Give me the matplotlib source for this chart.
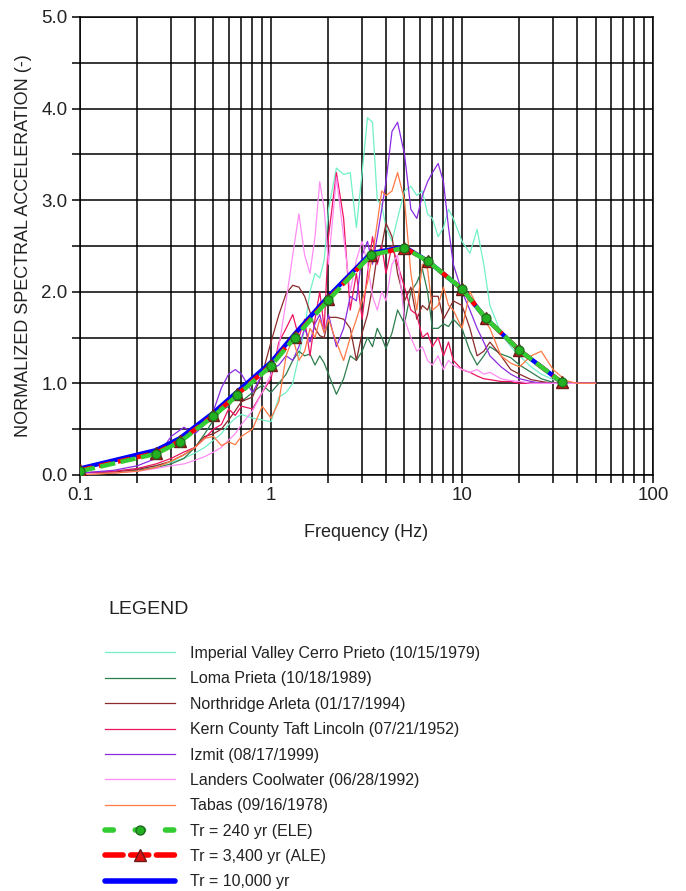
import matplotlib
matplotlib.use("Agg")
import matplotlib.pyplot as plt
from matplotlib.lines import Line2D
from matplotlib.ticker import FixedLocator, FixedFormatter, LogLocator, NullFormatter

plt.rcParams['font.family'] = ['Liberation Sans', 'DejaVu Sans']
plt.rcParams['lines.scale_dashes'] = False

# --- spectra of the scaled records (frequency in Hz, normalized Sa) ---
freq = [0.1, 0.15, 0.2, 0.25, 0.3, 0.35, 0.4, 0.45, 0.5, 0.55, 0.6, 0.65, 0.7, 0.8, 0.9,
        1.0, 1.1, 1.2, 1.3, 1.4, 1.5, 1.6, 1.7, 1.8, 1.9, 2.0, 2.2, 2.4, 2.6, 2.8,
        3.0, 3.2, 3.4, 3.6, 3.8, 4.0, 4.3, 4.6, 5.0, 5.4, 5.8, 6.2, 6.6, 7.0, 7.5,
        8.0, 8.5, 9.0, 10, 11, 12, 13, 14, 16, 18, 20, 23, 26, 30, 35, 40, 50]

imperial_valley = [0.02, 0.04, 0.07, 0.10, 0.14, 0.18, 0.24, 0.30, 0.38, 0.45, 0.55, 0.62, 0.66, 0.62, 0.60,
                   0.58, 0.85, 0.90, 1.00, 1.30, 1.60, 2.00, 2.20, 2.15, 2.35, 2.90, 3.35, 3.28, 3.30, 2.70,
                   3.30, 3.90, 3.85, 3.00, 2.95, 2.70, 2.55, 2.80, 3.10, 3.15, 3.05, 3.10, 2.85, 2.80, 2.60,
                   2.70, 2.90, 2.80, 2.55, 2.42, 2.68, 2.30, 1.85, 1.55, 1.40, 1.30, 1.18, 1.10, 1.04, 1.01, 1.00, 1.00]

loma_prieta = [0.00, 0.02, 0.05, 0.08, 0.12, 0.18, 0.30, 0.45, 0.60, 0.70, 0.75, 0.85, 0.80, 0.90, 0.98,
               0.90, 1.00, 1.10, 1.25, 1.35, 1.30, 1.32, 1.20, 1.30, 1.22, 1.10, 0.88, 1.05, 1.30, 1.25,
               1.35, 1.50, 1.40, 1.60, 1.50, 1.38, 1.55, 1.80, 1.65, 2.00, 2.10, 2.25, 2.00, 1.60, 1.60,
               1.65, 1.62, 1.70, 1.60, 1.35, 1.20, 1.30, 1.40, 1.32, 1.28, 1.20, 1.12, 1.05, 1.01, 1.00, 1.00, 1.00]

northridge = [0.02, 0.03, 0.06, 0.10, 0.15, 0.22, 0.30, 0.42, 0.45, 0.50, 0.60, 0.70, 0.80, 0.85, 1.10,
              1.45, 1.75, 1.98, 2.07, 2.05, 1.95, 1.78, 1.60, 1.52, 1.50, 1.72, 1.72, 1.70, 1.60, 1.25,
              1.55, 1.75, 2.05, 2.40, 2.50, 2.75, 2.60, 2.20, 1.90, 2.05, 1.70, 1.85, 1.80, 1.95, 1.95,
              1.70, 1.80, 1.90, 1.85, 1.60, 1.30, 1.35, 1.45, 1.30, 1.15, 1.10, 1.04, 1.02, 1.00, 1.00, 1.00, 1.00]

kern_county = [0.02, 0.04, 0.07, 0.12, 0.18, 0.25, 0.30, 0.40, 0.50, 0.55, 0.72, 0.65, 0.75, 0.72, 0.90,
               1.05, 1.45, 1.60, 1.75, 1.50, 1.70, 1.30, 1.70, 2.00, 1.60, 2.60, 3.30, 2.80, 1.80, 2.20,
               1.70, 2.20, 2.60, 2.30, 2.50, 2.20, 2.50, 2.30, 2.05, 1.80, 1.75, 1.50, 1.55, 1.40, 1.50,
               1.30, 1.45, 1.25, 1.15, 1.12, 1.08, 1.05, 1.04, 1.02, 1.02, 1.00, 1.00, 1.00, 1.00, 1.00, 1.00, 1.00]

izmit = [0.02, 0.05, 0.10, 0.18, 0.42, 0.52, 0.45, 0.55, 0.70, 0.95, 1.10, 1.15, 1.10, 0.90, 1.10,
         1.15, 1.20, 1.30, 1.25, 1.40, 1.60, 1.45, 1.65, 1.75, 1.55, 1.75, 1.40, 1.60, 1.95, 1.90,
         2.40, 2.55, 2.30, 2.60, 2.90, 3.20, 3.75, 3.85, 3.50, 2.90, 2.80, 3.05, 3.20, 3.30, 3.40,
         3.20, 2.70, 2.30, 2.00, 1.80, 1.60, 1.45, 1.30, 1.18, 1.10, 1.05, 1.02, 1.00, 1.00, 1.00, 1.00, 1.00]

landers = [0.01, 0.02, 0.04, 0.07, 0.10, 0.12, 0.16, 0.20, 0.25, 0.30, 0.38, 0.45, 0.55, 0.70, 0.90,
           1.10, 1.40, 1.90, 2.40, 2.85, 2.40, 2.20, 2.60, 3.20, 2.90, 2.30, 3.25, 2.60, 2.00, 2.35,
           2.55, 2.30, 1.95, 1.80, 2.00, 1.90, 2.30, 2.40, 1.70, 1.50, 1.35, 1.40, 1.25, 1.20, 1.30,
           1.15, 1.25, 1.20, 1.15, 1.12, 1.15, 1.10, 1.12, 1.05, 1.03, 1.02, 1.00, 1.00, 1.00, 1.00, 1.00, 1.00]

tabas = [0.00, 0.02, 0.04, 0.08, 0.15, 0.22, 0.30, 0.40, 0.42, 0.32, 0.36, 0.33, 0.42, 0.50, 0.75,
         0.62, 0.80, 1.30, 1.50, 1.25, 1.35, 1.60, 1.50, 1.70, 1.55, 1.70, 1.45, 1.25, 1.50, 1.70,
         1.90, 2.10, 2.40, 2.75, 3.10, 3.05, 3.10, 3.30, 3.00, 2.20, 1.80, 2.30, 2.25, 1.80, 1.85,
         2.05, 1.85, 1.80, 1.60, 2.00, 1.85, 1.70, 1.60, 1.30, 1.22, 1.18, 1.30, 1.35, 1.15, 1.03, 1.00, 1.00]

# --- design spectra ---
design_freq = [0.1, 0.25, 0.333, 0.5, 0.667, 1.0, 1.333, 2.0, 3.333, 5.0, 6.667, 10, 13.33, 20, 33.33]
tr_10000 = [0.07, 0.27, 0.40, 0.68, 0.91, 1.23, 1.54, 1.95, 2.42, 2.49, 2.33, 2.03, 1.71, 1.36, 1.01]
tr_3400 = [0.05, 0.24, 0.37, 0.65, 0.88, 1.20, 1.51, 1.92, 2.40, 2.48, 2.33, 2.03, 1.71, 1.36, 1.01]
tr_240 = [0.04, 0.23, 0.36, 0.64, 0.87, 1.19, 1.50, 1.91, 2.40, 2.48, 2.33, 2.03, 1.71, 1.36, 1.01]

x_ticks = [0.1, 1, 10, 100]
x_ticklabels = ['0.1', '1', '10', '100']
y_ticks = [0, 1, 2, 3, 4, 5]
y_ticklabels = ['0.0', '1.0', '2.0', '3.0', '4.0', '5.0']
y_minor = [0.5, 1.5, 2.5, 3.5, 4.5]

records = [
    ('Imperial Valley Cerro Prieto (10/15/1979)', imperial_valley, '#72F0C6'),
    ('Loma Prieta (10/18/1989)', loma_prieta, '#2E7D4E'),
    ('Northridge Arleta (01/17/1994)', northridge, '#8B2A2A'),
    ('Kern County Taft Lincoln (07/21/1952)', kern_county, '#EE1460'),
    ('Izmit (08/17/1999)', izmit, '#8A2BE2'),
    ('Landers Coolwater (06/28/1992)', landers, '#FF8CF5'),
    ('Tabas (09/16/1978)', tabas, '#FF7A45'),
]

fig = plt.figure(figsize=(6.86, 8.91), dpi=100)
ax = fig.add_axes([0.1166, 0.467, 0.8353, 0.514])

handles = []
for name, vals, col in records:
    ln, = ax.plot(freq, vals, color=col, lw=0.9, zorder=3)
    handles.append(ln)

ax.plot(design_freq, tr_10000, color='#0000FF', lw=3.2, zorder=5, solid_capstyle='butt')
ax.plot(design_freq, tr_3400, color='#FF0000', lw=3.2, dashes=(9, 5), zorder=6)
ax.plot(design_freq, tr_3400, ls='none', marker='^', ms=8.5, mfc='#E01010',
        mec='#6B1A1A', mew=1.0, zorder=7)
ax.plot(design_freq, tr_240, color='#33CC33', lw=3.2, dashes=(11, 4), zorder=8)
ax.plot(design_freq, tr_240, ls='none', marker='o', ms=6.5, mfc='#22B022',
        mec='#1E6B1E', mew=0.9, zorder=9)

ax.set_xscale('log')
ax.set_xlim(0.1, 100)
ax.set_ylim(0, 5)
ax.xaxis.set_major_locator(FixedLocator(x_ticks))
ax.xaxis.set_major_formatter(FixedFormatter(x_ticklabels))
ax.xaxis.set_minor_locator(LogLocator(base=10, subs=range(2, 10)))
ax.xaxis.set_minor_formatter(NullFormatter())
ax.yaxis.set_major_locator(FixedLocator(y_ticks))
ax.yaxis.set_major_formatter(FixedFormatter(y_ticklabels))
ax.yaxis.set_minor_locator(FixedLocator(y_minor))
ax.yaxis.set_minor_formatter(NullFormatter())

ax.grid(which='both', color='black', lw=1.1, zorder=1)
ax.set_axisbelow(True)
ax.tick_params(which='both', direction='out', length=6, width=1.1, color='black')
ax.tick_params(which='major', labelsize=13.5, labelcolor='#222222', pad=3)
for sp in ax.spines.values():
    sp.set_linewidth(1.1)

ax.set_xlabel('Frequency (Hz)', fontsize=13, color='#222222', labelpad=14)
ax.set_ylabel('NORMALIZED SPECTRAL ACCELERATION (-)', fontsize=13, color='#222222', labelpad=7)

# legend block below the chart
fig.text(108 / 686, 1 - 610 / 891, 'LEGEND', fontsize=14, va='center', color='#222222')

handles += [
    Line2D([], [], color='#33CC33', lw=4, dashes=(6, 15.75), marker='o', ms=6.5,
           mfc='#22B022', mec='#1E6B1E', dash_capstyle='round'),
    Line2D([], [], color='#FF0000', lw=4, dashes=(13, 5.5), marker='^', ms=9,
           mfc='#E01010', mec='#6B1A1A', dash_capstyle='round'),
    Line2D([], [], color='#0000FF', lw=4, solid_capstyle='round'),
]
labels = [r[0] for r in records] + ['Tr = 240 yr (ELE)', 'Tr = 3,400 yr (ALE)', 'Tr = 10,000 yr']

fig.legend(handles, labels, loc='upper left', bbox_to_anchor=(105 / 686, 1 - 646 / 891),
           frameon=False, fontsize=11.5, handlelength=4.4, handletextpad=0.95,
           labelspacing=0.65, borderpad=0, borderaxespad=0, numpoints=1,
           labelcolor='#222222')

fig.savefig('out.png', dpi=100)
